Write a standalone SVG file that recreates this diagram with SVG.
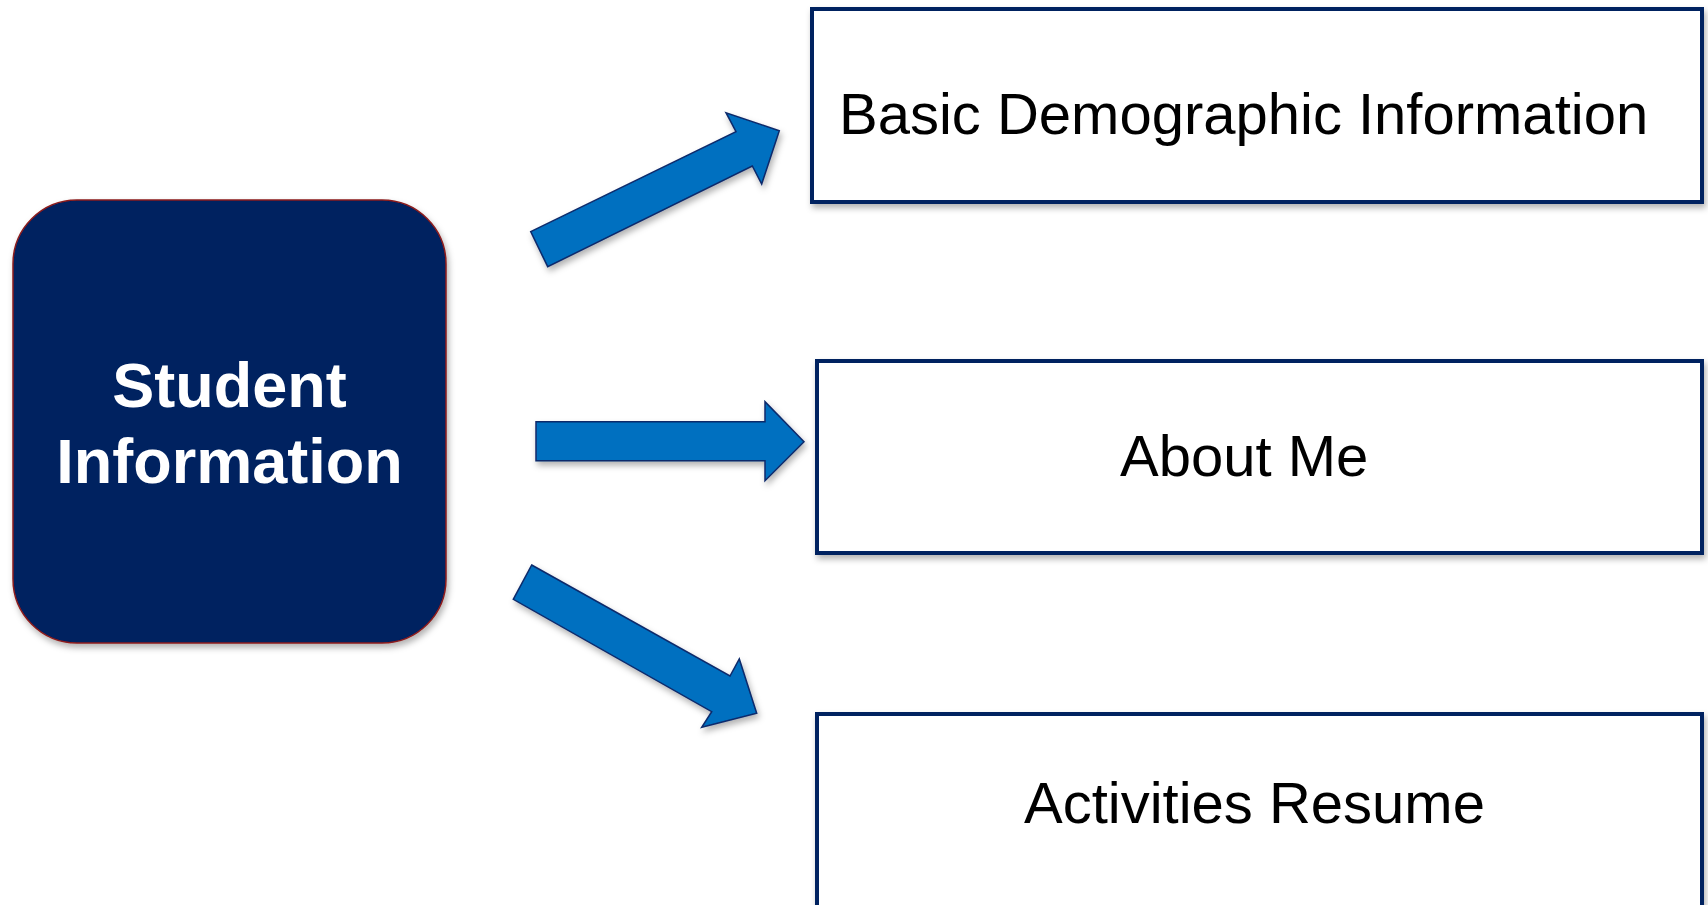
<svg xmlns="http://www.w3.org/2000/svg" width="1708" height="905" viewBox="0 0 1708 905">
  <style>
    .box { fill: #ffffff; stroke: #002060; stroke-width: 4; filter: url(#sh); }
    .lbl { font-family: "Liberation Sans", Arial, sans-serif; font-size: 58px; fill: #000000; }
    .main { fill: #002060; stroke: #8B1C1C; stroke-width: 1.5; filter: url(#sh); }
    .mlbl { font-family: "Liberation Sans", Arial, sans-serif; font-size: 63px; font-weight: bold; fill: #ffffff; text-anchor: middle; }
    .arr { fill: #0070C0; stroke: #0B2A6B; stroke-width: 1.5; stroke-linejoin: miter; filter: url(#sh); }
  </style>
  <defs>
    <filter id="sh" x="-10%" y="-10%" width="130%" height="130%">
      <feDropShadow dx="2" dy="4" stdDeviation="3" flood-color="#000000" flood-opacity="0.3"/>
    </filter>
  </defs>
  <rect width="1708" height="905" fill="#ffffff"/>
  <g id="student-information">
    <rect class="main" x="13" y="200" width="433" height="443" rx="64" ry="64"/>
    <text class="mlbl" x="229.5" y="407">Student</text>
    <text class="mlbl" x="229.5" y="483">Information</text>
  </g>
  <g id="basic-demographic">
    <rect class="box" x="812" y="9" width="890" height="193"/>
    <text class="lbl" x="839" y="133.5">Basic Demographic Information</text>
  </g>
  <g id="about-me">
    <rect class="box" x="817" y="361" width="885" height="192"/>
    <text class="lbl" x="1120" y="476">About Me</text>
  </g>
  <g id="activities-resume">
    <rect class="box" x="817" y="714" width="885" height="200"/>
    <text class="lbl" x="1024" y="823">Activities Resume</text>
  </g>
  <g id="connectors">
    <polygon class="arr" points="530.7,231.7 736,131.7 726,112.7 779.3,130.7 761.7,184 752.3,166 547.7,266.7"/>
    <polygon class="arr" points="536,421.7 765,421.7 765,401.7 804,441.7 765,480.7 765,460.7 536,460.7"/>
    <polygon class="arr" points="531.7,565 730,676 739.3,659 756.7,713.3 701.7,727.3 711.7,711.7 513.3,599.3"/>
  </g>
</svg>
